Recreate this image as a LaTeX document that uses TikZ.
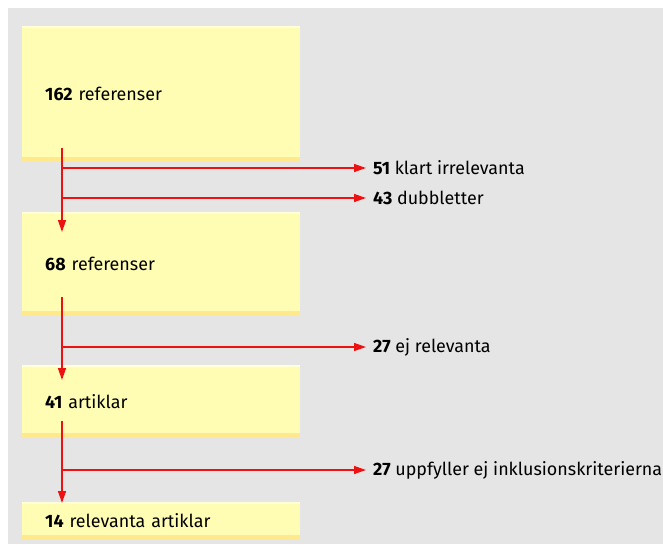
\documentclass[tikz,border=0pt]{standalone}
\usepackage{fontspec}
\setmainfont{Fira Sans}
\usetikzlibrary{arrows.meta}
\definecolor{bggray}{HTML}{E5E5E5}
\definecolor{boxfill}{HTML}{FFFDB4}
\definecolor{stripe}{HTML}{FFE98C}
\definecolor{topline}{HTML}{FFFFD8}
\definecolor{flowred}{HTML}{EE1111}
\tikzset{
  stepbox/.style={fill=boxfill, draw=none, anchor=north west,
    minimum width=278pt, text width=232pt, inner xsep=23pt, inner ysep=0pt,
    align=left, font=\fontsize{17.9}{20}\selectfont,
    path picture={
      \fill[stripe] ([yshift=4pt]path picture bounding box.south west) rectangle (path picture bounding box.south east);
      \fill[topline] (path picture bounding box.north west) rectangle ([yshift=-1.5pt]path picture bounding box.north east);
    }},
  outlabel/.style={anchor=west, inner sep=0pt, font=\fontsize{17.9}{20}\selectfont},
  flow/.style={draw=flowred, line width=1.4pt, -{Triangle[length=12pt,width=8pt]}}
}
\begin{document}
\begin{tikzpicture}[x=1pt,y=-1pt]
\useasboundingbox (0,0) rectangle (663,544);
\fill[white] (0,0) rectangle (663,544);
\fill[bggray] (8,8) rectangle (663,544);
% boxes
\node[stepbox, minimum height=135pt] (b1) at (22,26) {\textbf{162} referenser};
\node[stepbox, minimum height=103pt] (b2) at (22,212) {\textbf{68} referenser};
\node[stepbox, minimum height=72pt] (b3) at (22,365) {\textbf{41} artiklar};
\node[stepbox, minimum height=37pt] (b4) at (22,502) {\textbf{14} relevanta artiklar};
% labels
\node[outlabel] (l1) at (373,168) {\textbf{51} klart irrelevanta};
\node[outlabel] (l2) at (373,198) {\textbf{43} dubbletter};
\node[outlabel] (l3) at (373,347) {\textbf{27} ej relevanta};
\node[outlabel] (l4) at (373,470) {\textbf{27} uppfyller ej inklusionskriterierna};
% coordinates
\coordinate (s1) at (62,148);
\coordinate (e1) at (62,232);
\coordinate (s2) at (62,297);
\coordinate (e2) at (62,380);
\coordinate (s3) at (62,421);
\coordinate (e3) at (62,503);
% trunks
\draw[flow] (s1) -- (e1);
\draw[flow] (s2) -- (e2);
\draw[flow] (s3) -- (e3);
% branches
\draw[flow] (s1 |- l1.west) -- ([xshift=-7pt]l1.west);
\draw[flow] (s1 |- l2.west) -- ([xshift=-7pt]l2.west);
\draw[flow] (s2 |- l3.west) -- ([xshift=-7pt]l3.west);
\draw[flow] (s3 |- l4.west) -- ([xshift=-7pt]l4.west);
\end{tikzpicture}
\end{document}
